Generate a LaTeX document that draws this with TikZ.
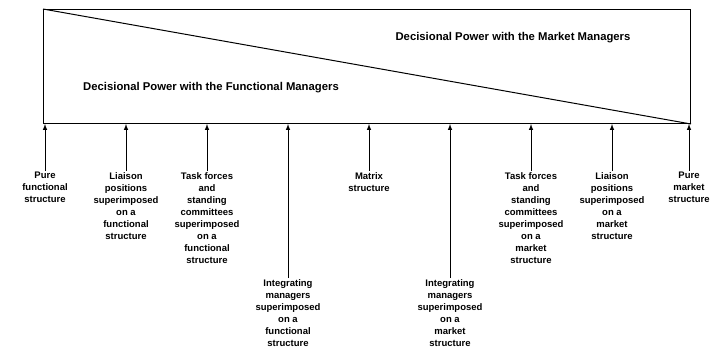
\documentclass[tikz,border=0pt]{standalone}
\usepackage{fontspec}
\setmainfont{Liberation Sans}
\begin{document}
\begin{tikzpicture}[x=1pt,y=-1pt,>=latex]
  \tikzstyle{struct}=[align=center,anchor=north,inner sep=1pt,font=\fontsize{9.5}{12}\selectfont\bfseries]
  \tikzstyle{power}=[inner sep=1pt,font=\fontsize{11.3}{13}\selectfont\bfseries]
  \useasboundingbox (0,0) rectangle (717,351);
  \node[draw,line width=1pt,anchor=north west,minimum width=647pt,minimum height=114pt,inner sep=0pt] (frame) at (43,9) {};
  \draw[line width=1pt] (frame.north west) -- (frame.south east);
  \node[power] (mm) at (513,38) {Decisional Power with the Market Managers};
  \node[power] (fm) at (211,88) {Decisional Power with the Functional Managers};
  \foreach \x/\y/\n/\txt in {45/171/pf/{Pure\\functional\\structure},
      126/171/lf/{Liaison\\positions\\superimposed\\on a\\functional\\structure},
      207/171/tf/{Task forces\\and\\standing\\committees\\superimposed\\on a\\functional\\structure},
      288/278/if/{Integrating\\managers\\superimposed\\on a\\functional\\structure},
      369/171/mx/{Matrix\\structure},
      450/278/im/{Integrating\\managers\\superimposed\\on a\\market\\structure},
      531/171/tm/{Task forces\\and\\standing\\committees\\superimposed\\on a\\market\\structure},
      612/171/lm/{Liaison\\positions\\superimposed\\on a\\market\\structure},
      689/171/pm/{Pure\\market\\structure}}
  {
    \node[struct] (\n) at (\x,\y) {\txt};
    \draw[->,line width=1pt] (\n.north) -- (\n.north |- frame.south);
  }
\end{tikzpicture}
\end{document}
